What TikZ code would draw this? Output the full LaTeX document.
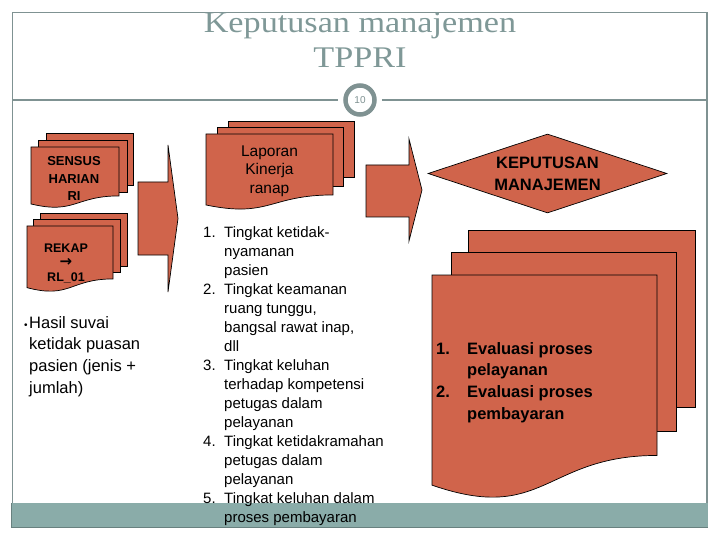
\documentclass[tikz,border=0pt]{standalone}
\usepackage{fontspec}
\setmainfont{Liberation Sans}
\newfontfamily\titlefont[FakeStretch=1.14]{Liberation Serif}
\newfontfamily\arrowfont{DejaVu Sans}
\usetikzlibrary{shapes.geometric}

\definecolor{docfill}{HTML}{D0644B}
\definecolor{framegray}{HTML}{7F9292}
\definecolor{titlegray}{HTML}{7F9897}
\definecolor{bandteal}{HTML}{8AACA9}

% one sheet with a wavy bottom: x, y, width, height
\newcommand{\docpage}[4]{%
  \filldraw[sheet] (#1,#2) -- ({#1+#3},#2) -- ({#1+#3},{#2+0.802*#4})
    .. controls ({#1+0.5*#3},{#2+0.802*#4}) and ({#1+0.5*#3},{#2+1.1075*#4})
    .. (#1,{#2+0.934*#4}) -- cycle;}
% a sheet lying behind: x, y, width, height
\newcommand{\backpage}[4]{%
  \filldraw[sheet] (#1,#2) rectangle ({#1+#3},{#2+#4});}

\begin{document}
\begin{tikzpicture}[x=1pt, y=-1pt,
  sheet/.style={draw=black, fill=docfill, line width=0.7pt},
  frame/.style={draw=framegray, line width=1.2pt},
  titletext/.style={font=\titlefont\fontsize{30}{35}\selectfont,
    text=titlegray, inner sep=0pt},
  pagenum/.style={circle, draw=framegray, line width=4.5pt, fill=white,
    minimum size=29pt, inner sep=0pt, text=framegray,
    font=\fontsize{10}{10}\selectfont},
  doclabel/.style={font=\bfseries\fontsize{13}{17.5}\selectfont,
    align=center, inner sep=0pt},
  decision/.style={diamond, aspect=3.03, draw=black, fill=docfill,
    line width=0.7pt, minimum width=239pt, minimum height=79pt,
    inner sep=0pt, font=\bfseries\fontsize{16.5}{22}\selectfont,
    align=center},
  listtext/.style={anchor=north west, inner sep=0pt, align=left},
  blockarr/.style={draw=black, fill=docfill, line width=0.7pt},
]
\useasboundingbox (0,0) rectangle (720,540);

%% Slide frame
\fill[bandteal] (11.5,503) rectangle (707.5,527.5);
\draw[bandteal!75!black, line width=0.6pt] (11.5,503) -- (11.5,527.5) -- (707.5,527.5);
\draw[frame] (12.7,503) -- (12.7,12.7) -- (707,12.7) -- (707,503);

%% Title
\node[titletext, anchor=base] (title1) at (360,33) {Keputusan manajemen};
\node[titletext, anchor=base] (title2) at (360,68) {TPPRI};

\node[pagenum] (num) at (360,100) {10};
\draw[frame] (12.7,100) -- ([xshift=-5pt]num.west);
\draw[frame] ([xshift=5pt]num.east) -- (707,100);

%% Sensus harian
\backpage{46}{133}{87}{52}
\backpage{38}{140}{89}{52}
\docpage{31}{147}{88}{61}
\node[doclabel] (sensus) at (74,178.5) {SENSUS\\HARIAN\\RI};

%% Rekap
\backpage{40}{213}{87}{53}
\backpage{33}{219}{87}{53}
\docpage{27}{226}{86}{66}
\node[doclabel, font=\bfseries\fontsize{12.5}{14.5}\selectfont]
  (rekap) at (66,263) {REKAP\\{\arrowfont\bfseries\fontsize{15}{14.5}\selectfont →}\\RL\_01};

%% Survei
\node[listtext, font=\fontsize{16.5}{21.6}\selectfont] (survei) at (24,312.9)
  {\begin{tabular}{@{}p{5pt}@{}l@{}}
   {\fontsize{10}{10}\selectfont •} & Hasil suvai\\
   & ketidak puasan\\
   & pasien (jenis +\\
   & jumlah)
  \end{tabular}};

%% Arrow 1
\filldraw[blockarr] (138,182) -- (168,182) -- (168,145) -- (178,218.5)
  -- (168,292) -- (168,255) -- (138,255) -- cycle;

%% Laporan kinerja
\backpage{228}{121}{126}{56}
\backpage{217}{127}{126}{59}
\docpage{206}{134}{127}{76}
\node[doclabel, font=\fontsize{15.5}{18.5}\selectfont]
  (laporan) at (269.5,171) {Laporan\\Kinerja\\ranap};

%% Indikator
\node[listtext, font=\fontsize{15}{19}\selectfont] (indikator) at (203,223.7)
  {\begin{tabular}{@{}p{21pt}@{}l@{}}
   1. & Tingkat ketidak-\\
      & nyamanan\\
      & pasien\\
   2. & Tingkat keamanan\\
      & ruang tunggu,\\
      & bangsal rawat inap,\\
      & dll\\
   3. & Tingkat keluhan\\
      & terhadap kompetensi\\
      & petugas dalam\\
      & pelayanan\\
   4. & Tingkat ketidakramahan\\
      & petugas dalam\\
      & pelayanan\\
   5. & Tingkat keluhan dalam\\
      & proses pembayaran
  \end{tabular}};

%% Arrow 2
\filldraw[blockarr] (366,165) -- (409,165) -- (409,139) -- (422,190)
  -- (409,241) -- (409,217) -- (366,217) -- cycle;

%% Keputusan
\node[decision] (keputusan) at (547.5,173.5) {KEPUTUSAN\\MANAJEMEN};

\backpage{468}{230}{227}{177}
\backpage{451}{252}{225}{179}
\docpage{432}{275}{225}{225}
\node[listtext, font=\bfseries\fontsize{16.5}{21.8}\selectfont] (evaluasi) at (436,338.7)
  {\begin{tabular}{@{}p{31pt}@{}l@{}}
   1. & Evaluasi proses\\
      & pelayanan\\
   2. & Evaluasi proses\\
      & pembayaran
  \end{tabular}};

\end{tikzpicture}
\end{document}
